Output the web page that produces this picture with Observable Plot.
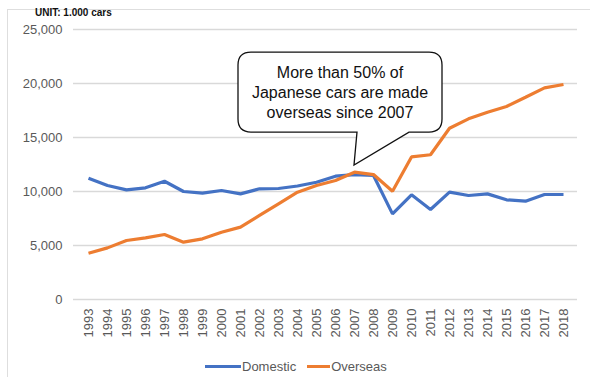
<!DOCTYPE html>
<html>
<head>
<meta charset="utf-8">
<script src="https://cdn.jsdelivr.net/npm/d3@7"></script>
<script src="https://cdn.jsdelivr.net/npm/@observablehq/plot@0.6"></script>
<style>
  html, body { margin: 0; padding: 0; background: #fff; }
  #wrap { position: relative; width: 590px; height: 377px; overflow: hidden; font-family: "Liberation Sans", Arial, sans-serif; }
  #frame { position: absolute; left: 7px; top: 9px; width: 600px; height: 400px; border-top: 1.5px solid #dedede; border-left: 1.5px solid #dedede; }
  #unit { position: absolute; left: 35px; top: 7px; font-size: 10px; font-weight: bold; color: #111; }
  #legend { position: absolute; left: 205px; top: 359px; font-size: 13px; color: #595959; display: flex; align-items: center; }
  .sw { display: inline-block; width: 36px; height: 3.5px; margin-right: 1px; }
  #chart { position: absolute; left: 0; top: 0; }
</style>
</head>
<body>
<div id="wrap">
  <div id="frame"></div>
  <div id="chart"></div>
  <div id="unit">UNIT: 1.000 cars</div>
  <div id="legend">
    <span class="sw" style="background:#4472C4"></span><span style="margin-right:11px">Domestic</span>
    <span class="sw" style="background:#ED7D31;width:23px"></span><span>Overseas</span>
  </div>
</div>
<script>
const years = ["1993","1994","1995","1996","1997","1998","1999","2000","2001","2002","2003","2004","2005","2006","2007","2008","2009","2010","2011","2012","2013","2014","2015","2016","2017","2018"];
const domestic = [11230,10560,10150,10340,10950,10000,9850,10090,9780,10250,10280,10510,10860,11420,11570,11480,7930,9690,8330,9940,9630,9780,9230,9100,9720,9720];
const overseas = [4290,4780,5460,5710,6020,5310,5620,6230,6700,7780,8860,9940,10560,11020,11790,11570,10030,13200,13400,15860,16730,17340,17870,18730,19600,19910];
const yTicks = [0,5000,10000,15000,20000,25000];
const seriesNames = ["Domestic","Overseas"];
const seriesColors = ["#4472C4","#ED7D31"];
const calloutLines = ["More than 50% of","Japanese cars are made","overseas since 2007"];
const calloutYear = "2007";
const calloutValue = 12400;

const rows = [];
years.forEach((y,i) => {
  rows.push({year:y, series:seriesNames[0], value:domestic[i]});
  rows.push({year:y, series:seriesNames[1], value:overseas[i]});
});

const plot = Plot.plot({
  width: 590,
  height: 377,
  marginLeft: 73,
  marginRight: 13,
  marginTop: 29,
  marginBottom: 78,
  style: {fontFamily: "'Liberation Sans', Arial, sans-serif", fontSize: "13px", color: "#595959", background: "transparent"},
  x: {type: "point", domain: years, padding: 0.5, label: null},
  y: {domain: [0,25000], ticks: yTicks, label: null, tickFormat: d3.format(",")},
  color: {domain: seriesNames, range: seriesColors},
  marks: [
    Plot.ruleY(yTicks, {stroke: "#d9d9d9", strokeWidth: 1.3, strokeOpacity: 1}),
    Plot.axisY({ticks: yTicks, tickSize: 0, tickPadding: 11, tickFormat: d3.format(","), label: null, fill: "#595959"}),
    Plot.axisX({tickSize: 0, tickRotate: -90, tickPadding: 9, label: null, fill: "#595959"}),
    Plot.line(rows, {x: "year", y: "value", z: "series", stroke: "series", strokeWidth: 3.2, strokeLinejoin: "miter", strokeLinecap: "butt"})
  ]
});
document.getElementById("chart").appendChild(plot);

// Callout anchored to the data point via the plot's scales
const sx = plot.scale("x"), sy = plot.scale("y");
const tx = sx.apply(calloutYear), ty = sy.apply(calloutValue);
const L = tx - 116, R = tx + 88, T = ty - 113, B = ty - 33, r = 13;
const b1 = tx + 3, b2 = tx + 55;
const path = `M${L+r},${T} H${R-r} Q${R},${T} ${R},${T+r} V${B-r} Q${R},${B} ${R-r},${B} H${b2} L${tx},${ty} L${b1},${B} H${L+r} Q${L},${B} ${L},${B-r} V${T+r} Q${L},${T} ${L+r},${T} Z`;
const svg = d3.select(plot);
const g = svg.append("g");
g.append("path").attr("d", path).attr("fill", "#fff").attr("stroke", "#111").attr("stroke-width", 1.3);
const cx = (L + R) / 2;
g.selectAll("text.c").data(calloutLines).join("text")
  .attr("x", cx).attr("y", (d,i) => T + 26 + i*20)
  .attr("text-anchor", "middle")
  .attr("font-family", "'Liberation Sans', Arial, sans-serif")
  .attr("font-size", 16).attr("fill", "#111")
  .text(d => d);
</script>
</body>
</html>
